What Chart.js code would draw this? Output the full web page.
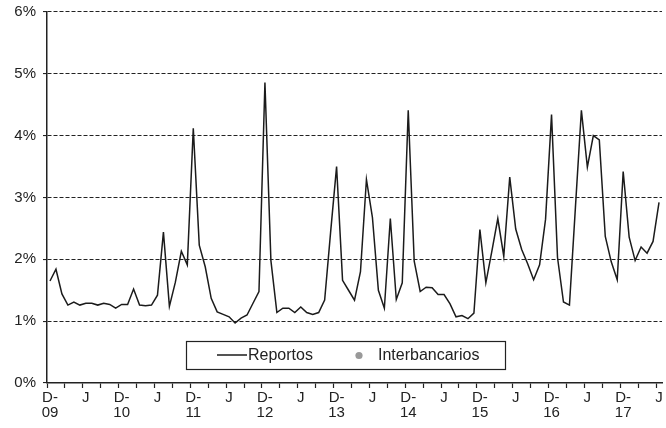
<!DOCTYPE html>
<html lang="es">
<head>
<meta charset="utf-8">
<title>Reportos</title>
<script src="https://cdn.jsdelivr.net/npm/chart.js@4.4.1/dist/chart.umd.min.js"></script>
<style>
  html, body { margin: 0; padding: 0; background: #fff; }
  #wrap { width: 666px; height: 428px; position: relative; }
</style>
</head>
<body>
<div id="wrap"><canvas id="chart"></canvas></div>
<script>
// meses de diciembre 2009 a junio 2018
const months = [];
for (let i = 0; i < 103; i++) {
  const m = (11 + i) % 12;
  const y = 2009 + Math.floor((11 + i) / 12);
  months.push(y + '-' + String(m + 1).padStart(2, '0'));
}

// tasa de reportos, % mensual
const reportos = [
  1.65, 1.84, 1.44, 1.26, 1.31, 1.26, 1.29, 1.29, 1.26, 1.29, 1.27, 1.21,
  1.27, 1.27, 1.52, 1.26, 1.25, 1.26, 1.42, 2.44, 1.24, 1.63, 2.13, 1.91,
  4.12, 2.23, 1.88, 1.37, 1.15, 1.11, 1.07, 0.97, 1.05, 1.10, 1.29, 1.48,
  4.86, 1.98, 1.14, 1.21, 1.21, 1.14, 1.23, 1.14, 1.11, 1.14, 1.34, 2.44,
  3.50, 1.66, 1.50, 1.34, 1.80, 3.29, 2.68, 1.50, 1.21, 2.66, 1.35, 1.62,
  4.41, 1.97, 1.48, 1.55, 1.54, 1.43, 1.43, 1.28, 1.07, 1.09, 1.04, 1.13,
  2.48, 1.62, 2.13, 2.66, 2.05, 3.33, 2.49, 2.16, 1.93, 1.67, 1.91, 2.65,
  4.34, 2.03, 1.31, 1.26, 2.84, 4.41, 3.49, 4.00, 3.93, 2.37, 1.96, 1.67,
  3.42, 2.36, 1.98, 2.20, 2.10, 2.29, 2.92
];
// sin datos visibles en el gráfico, solo aparece en la leyenda
const interbancarios = [];

const yMin = 0, yMax = 6, yStep = 1;
const fontFamily = '"Liberation Sans", Arial, sans-serif';
const ink = '#222222';

// leyenda con recuadro dentro del área del gráfico
const legendBox = {
  id: 'legendBox',
  afterDraw(chart) {
    const { ctx, chartArea } = chart;
    const x = chartArea.left + 139, y = chartArea.bottom - 42, w = 319, h = 28;
    const midY = y + h / 2;
    const sets = chart.data.datasets;
    ctx.save();
    ctx.fillStyle = '#fff';
    ctx.fillRect(x, y, w, h);
    ctx.strokeStyle = ink;
    ctx.lineWidth = 1.2;
    ctx.strokeRect(x + 0.5, y + 0.5, w, h);

    ctx.font = '16px ' + fontFamily;
    ctx.textBaseline = 'middle';
    ctx.fillStyle = ink;

    // Reportos: muestra de línea
    ctx.strokeStyle = sets[0].borderColor;
    ctx.lineWidth = 1.5;
    ctx.beginPath();
    ctx.moveTo(x + 31, midY);
    ctx.lineTo(x + 61, midY);
    ctx.stroke();
    ctx.fillText(sets[0].label, x + 62, midY + 1);

    // Interbancarios: punto gris
    ctx.fillStyle = sets[1].backgroundColor;
    ctx.beginPath();
    ctx.arc(x + 173, midY + 0.5, 3.6, 0, Math.PI * 2);
    ctx.fill();
    ctx.fillStyle = ink;
    ctx.fillText(sets[1].label, x + 192, midY + 1);
    ctx.restore();
  }
};

new Chart(document.getElementById('chart'), {
  type: 'line',
  data: {
    labels: months,
    datasets: [
      {
        label: 'Reportos',
        data: reportos,
        borderColor: '#1b1b1b',
        borderWidth: 1.5,
        pointRadius: 0,
        tension: 0,
        fill: false
      },
      {
        label: 'Interbancarios',
        data: interbancarios,
        borderColor: '#999999',
        backgroundColor: '#999999',
        showLine: false,
        pointRadius: 3,
        pointStyle: 'circle'
      }
    ]
  },
  options: {
    responsive: true,
    maintainAspectRatio: false,
    animation: false,
    devicePixelRatio: 1,
    layout: { padding: { top: 12, right: 4, left: 0, bottom: 0 } },
    plugins: {
      legend: { display: false },
      tooltip: { enabled: false }
    },
    scales: {
      x: {
        type: 'category',
        offset: true,
        afterFit: (s) => { s.height = 45; },
        grid: {
          offset: true,
          drawOnChartArea: false,
          tickLength: 5,
          tickWidth: 1.2,
          tickColor: (c) => (c.index % 3 === 0 ? ink : 'rgba(0,0,0,0)')
        },
        border: { display: true, color: ink, width: 1.5 },
        ticks: {
          autoSkip: false,
          maxRotation: 0,
          padding: 2,
          color: ink,
          font: { family: fontFamily, size: 15, lineHeight: 1.0 },
          callback: function (value, index) {
            const [yy, mm] = months[index].split('-');
            if (mm === '12') return ['D-', yy.slice(2)];
            if (mm === '06') return 'J';
            return '';
          }
        }
      },
      y: {
        min: yMin,
        max: yMax,
        afterFit: (s) => { s.width = 47; s.paddingTop = 0; s.paddingBottom = 0; },
        grid: {
          color: '#222222',
          lineWidth: 1.1,
          tickLength: 4,
          tickColor: ink,
          tickBorderDash: []
        },
        border: { display: true, color: ink, width: 1.5, dash: [4, 2] },
        ticks: {
          stepSize: yStep,
          padding: 7,
          color: ink,
          font: { family: fontFamily, size: 15, lineHeight: 1.0 },
          callback: (v) => v + '%'
        }
      }
    }
  },
  plugins: [legendBox]
});
</script>
</body>
</html>
